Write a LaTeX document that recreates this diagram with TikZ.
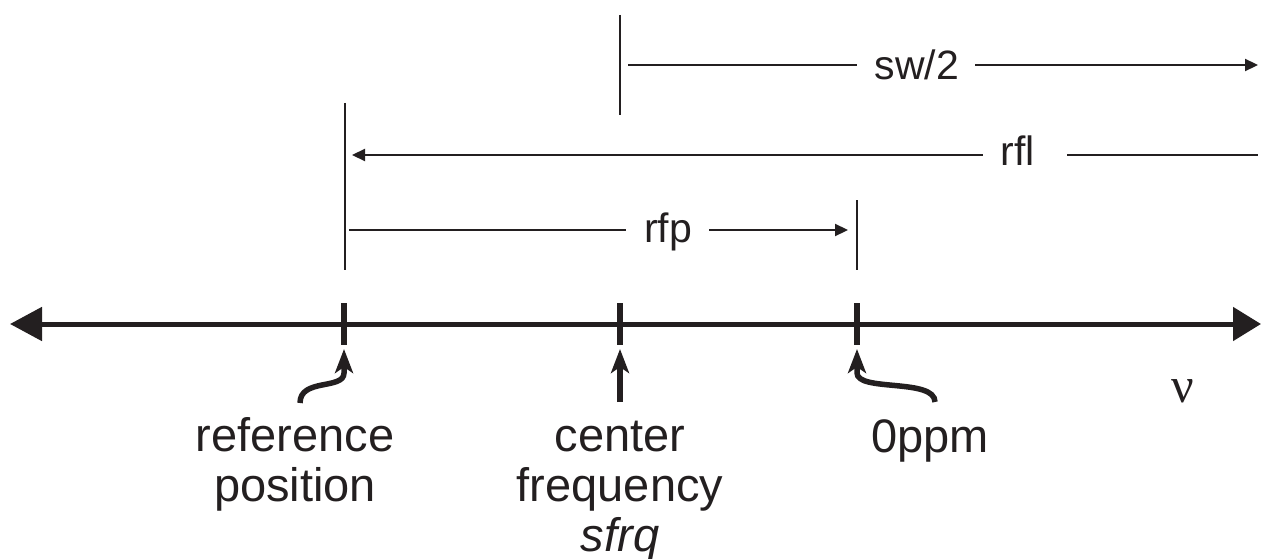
\documentclass[tikz,border=0pt]{standalone}
\usepackage{fontspec}
\setmainfont{Liberation Sans}
\newfontfamily\greekfont{Liberation Serif}
\usetikzlibrary{arrows.meta}
\definecolor{ink}{HTML}{231F20}
\begin{document}
\begin{tikzpicture}[x=1pt,y=-1pt,
  thinline/.style={draw=ink, line width=2.2pt},
  axisline/.style={draw=ink, line width=5pt},
  tickline/.style={draw=ink, line width=6pt},
  curly/.style={draw=ink, line width=5.5pt, -{Stealth[length=24pt,width=18pt,inset=6pt]}},
  smalltip/.style={-{Triangle[length=13pt,width=12pt]}},
  smalltipL/.style={{Triangle[length=13pt,width=12pt]}-},
  toplabel/.style={font=\fontsize{41}{44}\selectfont, text=ink, anchor=base, inner sep=0pt},
  botlabel/.style={font=\fontsize{47}{50}\selectfont, text=ink, align=center, anchor=base, inner sep=0pt},
]
\useasboundingbox (0,0) rectangle (1261,559);

% axis
\coordinate (axL) at (10,324);
\coordinate (axR) at (1261,324);
\draw[axisline, {Triangle[length=32pt,width=33pt]}-{Triangle[length=28pt,width=33pt]}] (axL) -- (axR);

% ticks
\coordinate (tA1) at (344,303); \coordinate (tA2) at (344,345);
\coordinate (tB1) at (620,303); \coordinate (tB2) at (620,345);
\coordinate (tC1) at (857,303); \coordinate (tC2) at (857,345);
\draw[tickline] (tA1) -- (tA2);
\draw[tickline] (tB1) -- (tB2);
\draw[tickline] (tC1) -- (tC2);

% vertical marker lines
\coordinate (vc1) at (620,15);  \coordinate (vc2) at (620,115);
\coordinate (vr1) at (345,103); \coordinate (vr2) at (345,270);
\coordinate (vz1) at (857,200); \coordinate (vz2) at (857,270);
\draw[thinline] (vc1) -- (vc2);
\draw[thinline] (vr1) -- (vr2);
\draw[thinline] (vz1) -- (vz2);

% sw/2
\node[toplabel] (sw) at (917,80) {sw/2};
\coordinate (swA) at (628,65);  \coordinate (swB) at (857,65);
\coordinate (swC) at (975,65);  \coordinate (swD) at (1258,65);
\draw[thinline] (swA) -- (swB);
\draw[thinline, smalltip] (swC) -- (swD);

% rfl
\node[toplabel] (rfl) at (1018,165) {rfl};
\coordinate (rflA) at (352,155); \coordinate (rflB) at (983,155);
\coordinate (rflC) at (1067,155); \coordinate (rflD) at (1258,155);
\draw[thinline, smalltipL] (rflA) -- (rflB);
\draw[thinline] (rflC) -- (rflD);

% rfp
\node[toplabel] (rfp) at (668,242) {rfp};
\coordinate (rfpA) at (349,230); \coordinate (rfpB) at (626,230);
\coordinate (rfpC) at (709,230); \coordinate (rfpD) at (848,230);
\draw[thinline] (rfpA) -- (rfpB);
\draw[thinline, smalltip] (rfpC) -- (rfpD);

% pointer arrows
\coordinate (crs) at (300,403); \coordinate (crt) at (344,349);
\draw[curly] (crs) .. controls (300,378) and (344,390) .. (344,373) -- (crt);
\coordinate (ccs) at (620,402); \coordinate (cct) at (620,349);
\draw[curly] (ccs) -- (cct);
\coordinate (czs) at (935,402); \coordinate (czt) at (857,349);
\draw[curly] (czs) .. controls (935,378) and (857,392) .. (857,373) -- (czt);

% bottom labels (base anchor = baseline of last line)
\node[botlabel] (refpos) at (295,501) {reference\\position};
\node[botlabel] (cfreq) at (620,551) {center\\frequency\\\itshape sfrq};
\node[botlabel] (ppm) at (930,452) {0ppm};
\node[font=\greekfont\fontsize{50}{52}\selectfont, text=ink, anchor=base, inner sep=0pt] (nu) at (1183,402) {ν};
\end{tikzpicture}
\end{document}
